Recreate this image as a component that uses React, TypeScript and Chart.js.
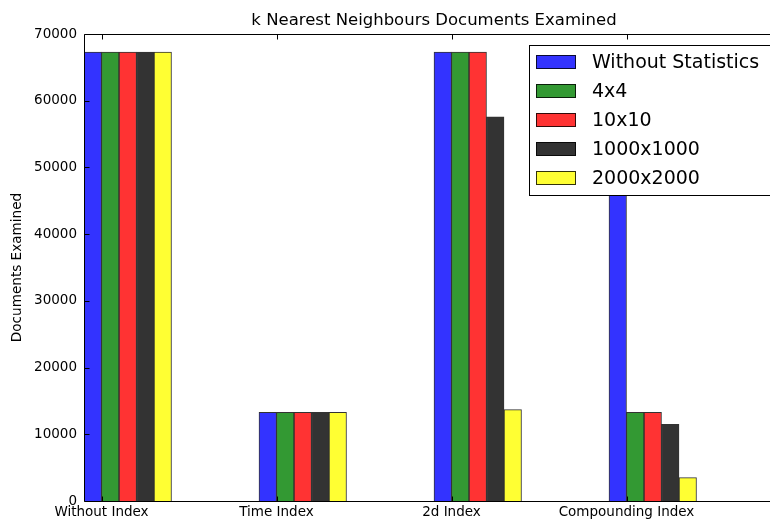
import { useEffect, useRef } from 'react';
import { Chart, registerables } from 'chart.js';

Chart.register(...registerables);

// Query strategies along the x axis
const categories = ['Without Index', 'Time Index', '2d Index', 'Compounding Index'];

// Statistics configurations (one bar per configuration in each group)
const seriesNames = ['Without Statistics', '4x4', '10x10', '1000x1000', '2000x2000'];
const withoutStatistics = [67300, 13300, 67300, 50000];
const grid4x4 = [67300, 13300, 67300, 13300];
const grid10x10 = [67300, 13300, 67300, 13300];
const grid1000x1000 = [67300, 13300, 57600, 11500];
const grid2000x2000 = [67300, 13300, 13700, 3500];

const yTickValues = [0, 10000, 20000, 30000, 40000, 50000, 60000, 70000];

const seriesValues = [withoutStatistics, grid4x4, grid10x10, grid1000x1000, grid2000x2000];
const fillColors = ['#3333ff', '#339933', '#ff3333', '#333333', '#ffff33'];
const edgeColor = 'rgba(0,0,0,0.8)';

// Each group spans [i, i + 0.5]; the category tick sits at i + 0.1
const BAR_WIDTH = 0.1;
const GROUP_CENTER = (seriesNames.length * BAR_WIDTH) / 2;
const TICK_OFFSET = BAR_WIDTH;

const FONT = '"DejaVu Sans", Verdana, sans-serif';

const framePlugin = {
  id: 'frameAndLegend',
  afterDatasetsDraw(chart: any) {
    const { ctx, chartArea, scales } = chart;
    const { left, right, top, bottom } = chartArea;
    const xs = scales.x;
    const ys = scales.y;
    ctx.save();

    // Axes frame
    ctx.strokeStyle = '#000';
    ctx.lineWidth = 1;
    const l = Math.round(left) + 0.5;
    const t = Math.round(top) + 0.5;
    const r = Math.round(right) - 0.5;
    const b = Math.round(bottom) + 0.5;
    ctx.beginPath();
    ctx.rect(l, t, r - l, b - t);
    ctx.stroke();

    // Inward tick marks on all sides
    const tl = 5;
    ctx.beginPath();
    yTickValues.forEach((v) => {
      const py = Math.round(ys.getPixelForValue(v)) + 0.5;
      ctx.moveTo(l, py);
      ctx.lineTo(l + tl, py);
      ctx.moveTo(r, py);
      ctx.lineTo(r - tl, py);
    });
    categories.forEach((_, i) => {
      const px = Math.round(xs.getPixelForValue(i + TICK_OFFSET)) + 0.5;
      ctx.moveTo(px, b);
      ctx.lineTo(px, b - tl);
      ctx.moveTo(px, t);
      ctx.lineTo(px, t + tl);
    });
    ctx.stroke();

    // Title
    ctx.fillStyle = '#000';
    ctx.font = `16.5px ${FONT}`;
    ctx.textAlign = 'center';
    ctx.textBaseline = 'middle';
    ctx.fillText('k Nearest Neighbours Documents Examined', (left + right) / 2, top - 13);

    // Y axis title
    ctx.save();
    ctx.translate(17, (top + bottom) / 2);
    ctx.rotate(-Math.PI / 2);
    ctx.font = `13.6px ${FONT}`;
    ctx.fillText('Documents Examined', 0, 0);
    ctx.restore();

    // Legend box in the upper right of the axes
    const boxRight = right - 7;
    const boxLeft = boxRight - 248;
    const boxTop = top + 11;
    const rowH = 29;
    const boxBottom = boxTop + 17 + rowH * (seriesNames.length - 1) + 17;
    ctx.fillStyle = '#fff';
    ctx.fillRect(boxLeft, boxTop, boxRight - boxLeft, boxBottom - boxTop);
    ctx.strokeStyle = '#000';
    ctx.strokeRect(Math.round(boxLeft) + 0.5, Math.round(boxTop) + 0.5, boxRight - boxLeft, boxBottom - boxTop);

    ctx.font = `19px ${FONT}`;
    ctx.textAlign = 'left';
    ctx.textBaseline = 'middle';
    seriesNames.forEach((name, i) => {
      const cy = boxTop + 17 + rowH * i;
      const sx = Math.round(boxLeft) + 7;
      const sy = Math.round(cy - 7);
      ctx.fillStyle = fillColors[i];
      ctx.fillRect(sx, sy, 40, 14);
      ctx.strokeStyle = edgeColor;
      ctx.strokeRect(sx + 0.5, sy + 0.5, 39, 13);
      ctx.fillStyle = '#000';
      ctx.fillText(name, sx + 56, cy + 1);
    });

    ctx.restore();
  },
};

export default function App() {
  const canvasRef = useRef<HTMLCanvasElement | null>(null);

  useEffect(() => {
    if (!canvasRef.current) return;
    const datasets = seriesNames.map((name, s) => ({
      label: name,
      data: seriesValues[s].map((v, i) => ({ x: i + GROUP_CENTER, y: v })),
      backgroundColor: fillColors[s],
      borderColor: edgeColor,
      borderWidth: 1,
      barThickness: 17.5,
    }));

    const chart = new Chart(canvasRef.current, {
      type: 'bar',
      data: { datasets },
      options: {
        responsive: false,
        animation: false,
        devicePixelRatio: 1,
        layout: { padding: { top: 34, right: 16, left: 0, bottom: 0 } },
        plugins: {
          legend: { display: false },
          title: { display: false },
          tooltip: { enabled: false },
        },
        scales: {
          x: {
            type: 'linear',
            min: 0,
            max: 4,
            offset: false,
            grid: { display: false, drawTicks: false, offset: false },
            border: { display: false },
            afterBuildTicks: (axis: any) => {
              axis.ticks = categories.map((_, i) => ({ value: i + TICK_OFFSET }));
            },
            afterFit: (axis: any) => {
              axis.height = 19;
            },
            ticks: {
              autoSkip: false,
              maxRotation: 0,
              padding: 3,
              color: '#000',
              font: { family: FONT, size: 13.5 },
              callback: (_v: any, index: number) => categories[index],
            },
          },
          y: {
            type: 'linear',
            min: 0,
            max: 70000,
            grid: { display: false, drawTicks: false },
            border: { display: false },
            afterBuildTicks: (axis: any) => {
              axis.ticks = yTickValues.map((v) => ({ value: v }));
            },
            afterFit: (axis: any) => {
              axis.width = 84;
            },
            ticks: {
              padding: 7,
              color: '#000',
              font: { family: FONT, size: 13.5 },
              callback: (v: any) => String(v),
            },
          },
        },
      },
      plugins: [framePlugin],
    });
    return () => chart.destroy();
  }, []);

  return (
    <div
      style={{
        position: 'fixed',
        left: 0,
        top: 0,
        width: 770,
        height: 520,
        overflow: 'hidden',
        background: '#fff',
      }}
    >
      <canvas ref={canvasRef} width={800} height={520} style={{ display: 'block', width: 800, height: 520 }} />
    </div>
  );
}
